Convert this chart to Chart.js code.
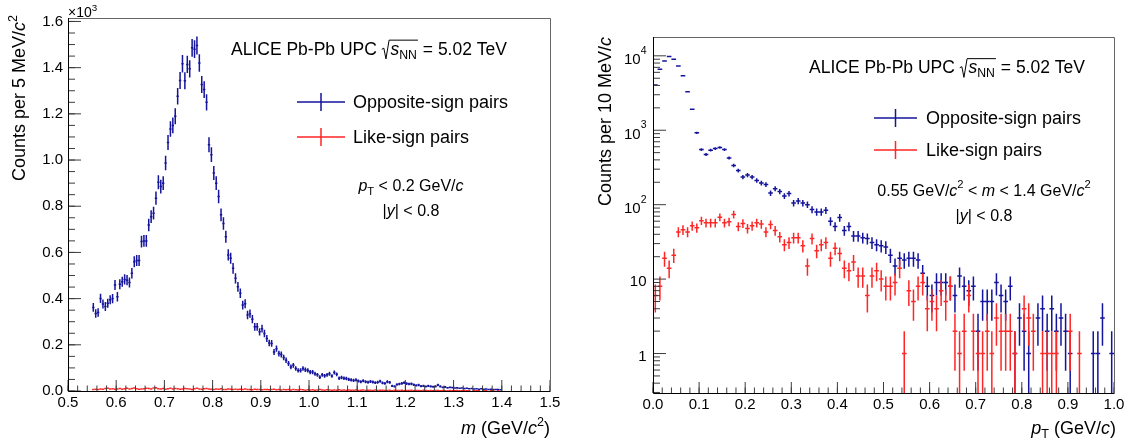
<!DOCTYPE html>
<html>
<head>
<meta charset="utf-8">
<script src="https://cdn.jsdelivr.net/npm/chart.js@4.4.1/dist/chart.umd.min.js"></script>
<style>
  body { margin: 0; background: #fff; }
  #wrap { position: relative; width: 1134px; height: 445px; }
  #massChart { position: absolute; left: 0; top: 0; }
  #ptChart { position: absolute; left: 567px; top: 0; }
</style>
</head>
<body>
<div id="wrap">
  <canvas id="massChart" width="567" height="445"></canvas>
  <canvas id="ptChart" width="567" height="445"></canvas>
</div>
<script>
// Invariant mass spectrum, 5 MeV bins from 0.55 to 1.40 GeV/c2 (pT < 0.2 GeV/c)
const massLow = 0.55;
const massBin = 0.005;
const massOpposite = [
  362, 336, 340, 401, 377, 366, 380, 395, 400, 459,
  408, 462, 473, 483, 480, 470, 510, 560, 565, 565,
  647, 650, 650, 719, 755, 770, 835, 904, 885, 900,
  987, 1076, 1134, 1150, 1190, 1276, 1344, 1417, 1343, 1414,
  1395, 1486, 1480, 1496, 1420, 1327, 1305, 1250, 1066, 1023,
  944, 900, 842, 763, 725, 668, 589, 575, 531, 488,
  451, 423, 372, 378, 329, 335, 311, 278, 278, 256,
  270, 249, 227, 208, 206, 169, 183, 162, 158, 145,
  133, 119, 104, 111, 97, 89, 89, 97, 92, 89,
  82, 82, 75, 70, 60, 70, 66, 70, 75, 65,
  80, 72, 55, 58, 55, 54, 50, 48, 46, 48,
  43, 40, 44, 40, 38, 41, 39, 36, 38, 42,
  35, 33, 40, 37, 22, 20, 28, 30, 33, 36,
  32, 30, 31, 27, 24, 26, 21, 22, 19, 22,
  20, 18, 20, 26, 20, 16, 17, 14, 16, 15,
  13, 14, 12, 13, 11, 12, 10, 11, 9, 10,
  8, 10, 8, 9, 7, 8, 7, 6, 7, 5
];
const massLike = [
  6, 8, 7, 9, 8, 11, 12, 9, 10, 8,
  9, 11, 8, 10, 12, 9, 11, 13, 10, 8,
  9, 10, 12, 11, 9, 13, 14, 10, 9, 11,
  8, 10, 12, 9, 11, 10, 8, 9, 11, 10,
  9, 7, 10, 12, 9, 8, 10, 11, 9, 8,
  7, 9, 8, 10, 7, 6, 9, 8, 7, 8,
  6, 8, 7, 9, 6, 7, 5, 8, 6, 7,
  5, 6, 7, 5, 6, 8, 5, 6, 4, 6,
  5, 7, 4, 6, 5, 4, 6, 5, 3, 5,
  4, 5, 3, 4, 6, 4, 3, 5, 4, 3,
  4, 3, 5, 3, 4, 2, 4, 3, 3, 4,
  2, 3, 4, 2, 3, 3, 2, 4, 2, 3,
  3, 2, 2, 3, 1, 3, 2, 2, 3, 1,
  2, 2, 3, 1, 2, 2, 1, 3, 2, 1,
  2, 1, 2, 2, 1, 2, 1, 1, 2, 1,
  1, 2, 1, 1, 2, 1, 1, 0, 1, 1,
  1, 0, 1, 1, 0, 1, 1, 0, 1, 0
];

// Transverse momentum spectrum, 10 MeV bins from 0 to 1 GeV/c
const ptLow = 0;
const ptBin = 0.01;
const ptOpposite = [
  4060, 6600, 8500, 9800, 9000, 7300, 5400, 3290, 1920, 922,
  550, 472, 540, 568, 587, 550, 425, 336, 287, 235,
  250, 235, 212, 195, 186, 143, 164, 150, 131, 141,
  105, 112, 105, 100, 86, 80, 80, 84, 60, 51,
  67, 45, 51, 38, 38, 36, 35, 31, 29, 28,
  27, 21, 15, 19, 18, 19, 19, 18, 12, 8,
  6, 9, 9, 9, 8, 6, 11, 8, 7, 8,
  2, 5, 5, 5, 9, 6, 5, 8, 1, 3,
  2, 1, 0, 3, 4, 2, 4, 2, 3, 2,
  1, 0, 0, 0, 0, 1, 1, 3, 0, 1
];
const ptLike = [
  6, 8, 19, 14, 21, 43, 46, 43, 52, 49,
  61, 57, 57, 57, 68, 57, 59, 74, 51, 56,
  48, 52, 57, 55, 43, 54, 45, 37, 29, 31,
  36, 36, 28, 15, 35, 24, 29, 31, 19, 26,
  22, 14, 13, 17, 11, 11, 6, 11, 13, 10,
  8, 8, 9, 14, 1, 7, 5, 8, 9, 4,
  5, 4, 7, 5, 8, 2, 1, 2, 6, 2,
  1, 1, 2, 1, 3, 2, 2, 2, 1, 0,
  4, 3, 2, 0, 1, 1, 1, 1, 0, 0,
  2, 0, 1, 0, 0, 0, 0, 0, 0, 0
];

// Tick labels
const massTicks = [0.5, 0.6, 0.7, 0.8, 0.9, 1.0, 1.1, 1.2, 1.3, 1.4, 1.5];
const massTickLabels = ['0.5', '0.6', '0.7', '0.8', '0.9', '1.0', '1.1', '1.2', '1.3', '1.4', '1.5'];
const countTicks = [0, 200, 400, 600, 800, 1000, 1200, 1400, 1600];
const countTickLabels = ['0.0', '0.2', '0.4', '0.6', '0.8', '1.0', '1.2', '1.4', '1.6'];
const ptTicks = [0, 0.1, 0.2, 0.3, 0.4, 0.5, 0.6, 0.7, 0.8, 0.9, 1.0];
const ptTickLabels = ['0.0', '0.1', '0.2', '0.3', '0.4', '0.5', '0.6', '0.7', '0.8', '0.9', '1.0'];
const logTicks = [1, 10, 100, 1000, 10000];
const logTickBase = ['1', '10', '10', '10', '10'];
const logTickExp = ['', '', '2', '3', '4'];

const FONT = '"Liberation Sans", Arial, Helvetica, sans-serif';
const BLUE = '#14149c';
const RED = '#ff2626';

function toPoints(low, bin, values) {
    return values.map((v, i) => ({ x: low + bin * (i + 0.5), y: v }));
}

// rich text helpers (italic, superscript, subscript)
function segFont(p, size) {
    const s = (p.sup || p.sub) ? size * 0.7 : size;
    return (p.i ? 'italic ' : '') + s + 'px ' + FONT;
}
function richWidth(ctx, parts, size) {
    let w = 0;
    parts.forEach(p => { ctx.font = segFont(p, size); w += ctx.measureText(p.t).width; });
    return w;
}
function drawRich(ctx, parts, x, y, size, align) {
    const w = richWidth(ctx, parts, size);
    let cx = align === 'center' ? x - w / 2 : align === 'right' ? x - w : x;
    ctx.textAlign = 'left';
    ctx.textBaseline = 'alphabetic';
    parts.forEach(p => {
        ctx.font = segFont(p, size);
        const dy = p.sup ? -size * 0.45 : p.sub ? size * 0.25 : 0;
        ctx.fillText(p.t, cx, y + dy);
        cx += ctx.measureText(p.t).width;
    });
}
function drawRotated(ctx, parts, cx, yEnd, size) {
    ctx.save();
    ctx.translate(cx, yEnd);
    ctx.rotate(-Math.PI / 2);
    drawRich(ctx, parts, 0, size * 0.36, size, 'right');
    ctx.restore();
}
function drawAlice(ctx, x, by, size) {
    ctx.fillStyle = '#000';
    ctx.textAlign = 'left';
    ctx.textBaseline = 'alphabetic';
    ctx.font = size + 'px ' + FONT;
    const head = 'ALICE Pb-Pb UPC ';
    ctx.fillText(head, x, by);
    const rx = x + ctx.measureText(head).width;
    const sx = rx + 0.5 * size;
    ctx.font = 'italic ' + size + 'px ' + FONT;
    ctx.fillText('s', sx, by);
    const ws = ctx.measureText('s').width;
    ctx.font = (size * 0.7) + 'px ' + FONT;
    ctx.fillText('NN', sx + ws, by + size * 0.25);
    const endX = sx + ws + ctx.measureText('NN').width + 1;
    ctx.strokeStyle = '#000';
    ctx.lineWidth = 1;
    ctx.beginPath();
    ctx.moveTo(rx, by - 0.3 * size);
    ctx.lineTo(rx + 0.12 * size, by - 0.36 * size);
    ctx.lineTo(rx + 0.24 * size, by + 0.25 * size);
    ctx.lineTo(rx + 0.42 * size, by - 0.82 * size);
    ctx.lineTo(endX, by - 0.82 * size);
    ctx.stroke();
    ctx.font = size + 'px ' + FONT;
    ctx.fillText(' = 5.02 TeV', endX, by);
}
function legendEntry(ctx, x1, x2, y, color, text, tx, size) {
    ctx.strokeStyle = color;
    ctx.lineWidth = 1.5;
    ctx.beginPath();
    ctx.moveTo(x1, y); ctx.lineTo(x2, y);
    const xm = (x1 + x2) / 2;
    ctx.moveTo(xm, y - 9); ctx.lineTo(xm, y + 9);
    ctx.stroke();
    ctx.fillStyle = '#000';
    ctx.font = size + 'px ' + FONT;
    ctx.textAlign = 'left';
    ctx.textBaseline = 'alphabetic';
    ctx.fillText(text, tx, y + size * 0.36);
}

// error bars: sqrt(N) vertically, bin width horizontally
const errorBars = {
    id: 'errorBars',
    afterDatasetsDraw(chart) {
        const { ctx, chartArea, scales: { x, y } } = chart;
        ctx.save();
        ctx.beginPath();
        ctx.rect(chartArea.left, chartArea.top, chartArea.width, chartArea.height);
        ctx.clip();
        chart.data.datasets.forEach(ds => {
            ctx.strokeStyle = ds.borderColor;
            ctx.lineWidth = 1.5;
            ds.data.forEach(p => {
                if (!p.y) return;
                const e = Math.sqrt(p.y);
                const px = x.getPixelForValue(p.x);
                const py = y.getPixelForValue(p.y);
                const lo = p.y - e;
                const pLo = lo > y.min ? y.getPixelForValue(lo) : chartArea.bottom;
                const pHi = y.getPixelForValue(p.y + e);
                const xl = x.getPixelForValue(p.x - ds.halfBin);
                const xr = x.getPixelForValue(p.x + ds.halfBin);
                ctx.beginPath();
                ctx.moveTo(px, pLo); ctx.lineTo(px, pHi);
                ctx.moveTo(xl, py); ctx.lineTo(xr, py);
                ctx.stroke();
            });
        });
        ctx.restore();
    }
};

// ROOT style frame with inward ticks
const rootFrame = {
    id: 'rootFrame',
    afterDraw(chart, args, opts) {
        const { ctx, chartArea: a, scales: { x, y } } = chart;
        ctx.save();
        ctx.lineWidth = 1;
        ctx.strokeStyle = '#3c3c3c';
        ctx.beginPath();
        opts.xMajor.forEach(v => { const px = x.getPixelForValue(v); ctx.moveTo(px, a.bottom); ctx.lineTo(px, a.bottom - 11); });
        opts.xMinor.forEach(v => { const px = x.getPixelForValue(v); ctx.moveTo(px, a.bottom); ctx.lineTo(px, a.bottom - 5.5); });
        opts.yMajor.forEach(v => { const py = y.getPixelForValue(v); ctx.moveTo(a.left, py); ctx.lineTo(a.left + 13, py); });
        opts.yMinor.forEach(v => { const py = y.getPixelForValue(v); ctx.moveTo(a.left, py); ctx.lineTo(a.left + 7, py); });
        ctx.stroke();
        ctx.strokeStyle = '#666';
        ctx.beginPath();
        ctx.moveTo(a.left, a.top + 0.5); ctx.lineTo(a.right + 0.5, a.top + 0.5); ctx.lineTo(a.right + 0.5, a.bottom);
        ctx.stroke();
        ctx.strokeStyle = '#000';
        ctx.beginPath();
        ctx.moveTo(a.left + 0.5, a.top); ctx.lineTo(a.left + 0.5, a.bottom + 0.5); ctx.lineTo(a.right + 0.5, a.bottom + 0.5);
        ctx.stroke();
        ctx.restore();
        if (opts.texts) opts.texts(ctx, chart);
    }
};

function linearMinors(from, to, step) {
    const out = [];
    const n = Math.round((to - from) / step);
    for (let k = 0; k <= n; k++) out.push(from + k * step);
    return out;
}
function logMinors(min, max) {
    const out = [];
    for (let d = -1; d <= 4; d++) {
        for (let k = 2; k <= 9; k++) {
            const v = k * Math.pow(10, d);
            if (v >= min && v <= max) out.push(v);
        }
    }
    return out;
}

function fixedTicks(vals) {
    return scale => { scale.ticks = vals.map(v => ({ value: v })); };
}

// Left panel: invariant mass
new Chart(document.getElementById('massChart'), {
    type: 'scatter',
    data: {
        datasets: [
            { label: 'Opposite-sign pairs', data: toPoints(massLow, massBin, massOpposite), borderColor: BLUE, halfBin: massBin / 2, pointRadius: 0, showLine: false },
            { label: 'Like-sign pairs', data: toPoints(massLow, massBin, massLike), borderColor: RED, halfBin: massBin / 2, pointRadius: 0, showLine: false }
        ]
    },
    options: {
        responsive: false,
        animation: false,
        events: [],
        layout: { padding: { left: 0, right: 17, top: 18, bottom: 0 } },
        scales: {
            x: {
                type: 'linear', min: 0.5, max: 1.5,
                afterBuildTicks: fixedTicks(massTicks),
                afterFit: s => { s.height = 54; },
                grid: { display: false, drawTicks: false },
                border: { display: false },
                ticks: { callback: (v, i) => massTickLabels[i], font: { family: FONT, size: 15 }, color: '#000', padding: 3, autoSkip: false, maxRotation: 0 }
            },
            y: {
                type: 'linear', min: 0, max: 1615,
                afterBuildTicks: fixedTicks(countTicks),
                afterFit: s => { s.width = 68; },
                grid: { display: false, drawTicks: false },
                border: { display: false },
                ticks: { callback: (v, i) => countTickLabels[i], font: { family: FONT, size: 15 }, color: '#000', padding: 5, autoSkip: false }
            }
        },
        plugins: {
            legend: { display: false },
            tooltip: { enabled: false },
            rootFrame: {
                xMajor: massTicks,
                xMinor: linearMinors(0.5, 1.5, 0.02),
                yMajor: countTicks,
                yMinor: linearMinors(0, 1600, 50),
                texts: (ctx, chart) => {
                    ctx.fillStyle = '#000';
                    drawRich(ctx, [{ t: '\u00d710' }, { t: '3', sup: 1 }], 68, 17, 14, 'left');
                    drawRotated(ctx, [{ t: 'Counts per 5 MeV/' }, { t: 'c', i: 1 }, { t: '2', sup: 1 }], 18.5, 15, 18);
                    drawRich(ctx, [{ t: 'm', i: 1 }, { t: ' (GeV/' }, { t: 'c', i: 1 }, { t: '2', sup: 1 }, { t: ')' }], 550, 434, 18, 'right');
                    drawAlice(ctx, 231, 54.5, 17.5);
                    legendEntry(ctx, 297, 345, 102, BLUE, 'Opposite-sign pairs', 353, 18);
                    legendEntry(ctx, 297, 345, 137, RED, 'Like-sign pairs', 353, 18);
                    ctx.fillStyle = '#000';
                    drawRich(ctx, [{ t: 'p', i: 1 }, { t: 'T', sub: 1 }, { t: ' < 0.2 GeV/' }, { t: 'c', i: 1 }], 411, 190.5, 16, 'center');
                    drawRich(ctx, [{ t: '|' }, { t: 'y', i: 1 }, { t: '| < 0.8' }], 411, 215.5, 16, 'center');
                }
            }
        }
    },
    plugins: [errorBars, rootFrame]
});

// Right panel: transverse momentum
const logMin = 0.295;
const logMax = 17900;
new Chart(document.getElementById('ptChart'), {
    type: 'scatter',
    data: {
        datasets: [
            { label: 'Opposite-sign pairs', data: toPoints(ptLow, ptBin, ptOpposite), borderColor: BLUE, halfBin: ptBin / 2, pointRadius: 0, showLine: false },
            { label: 'Like-sign pairs', data: toPoints(ptLow, ptBin, ptLike), borderColor: RED, halfBin: ptBin / 2, pointRadius: 0, showLine: false }
        ]
    },
    options: {
        responsive: false,
        animation: false,
        events: [],
        layout: { padding: { left: 0, right: 20, top: 37, bottom: 0 } },
        scales: {
            x: {
                type: 'linear', min: 0, max: 1,
                afterBuildTicks: fixedTicks(ptTicks),
                afterFit: s => { s.height = 52; },
                grid: { display: false, drawTicks: false },
                border: { display: false },
                ticks: { callback: (v, i) => ptTickLabels[i], font: { family: FONT, size: 15 }, color: '#000', padding: 3, autoSkip: false, maxRotation: 0 }
            },
            y: {
                type: 'logarithmic', min: logMin, max: logMax,
                afterBuildTicks: fixedTicks(logTicks),
                afterFit: s => { s.width = 86; },
                grid: { display: false, drawTicks: false },
                border: { display: false },
                ticks: { display: false }
            }
        },
        plugins: {
            legend: { display: false },
            tooltip: { enabled: false },
            rootFrame: {
                xMajor: ptTicks,
                xMinor: linearMinors(0, 1, 0.02),
                yMajor: logTicks,
                yMinor: logMinors(logMin, logMax),
                texts: (ctx, chart) => {
                    const y = chart.scales.y;
                    const left = chart.chartArea.left;
                    ctx.fillStyle = '#000';
                    logTicks.forEach((v, i) => {
                        const py = y.getPixelForValue(v);
                        let xr = left - 6.5;
                        if (logTickExp[i]) {
                            ctx.font = '10.5px ' + FONT;
                            ctx.textAlign = 'right';
                            ctx.textBaseline = 'alphabetic';
                            ctx.fillText(logTickExp[i], xr, py - 2);
                            xr -= ctx.measureText(logTickExp[i]).width;
                        }
                        ctx.font = '15px ' + FONT;
                        ctx.textAlign = 'right';
                        ctx.textBaseline = 'alphabetic';
                        ctx.fillText(logTickBase[i], xr, py + (logTickExp[i] ? 8.5 : 7));
                    });
                    drawRotated(ctx, [{ t: 'Counts per 10 MeV/' }, { t: 'c', i: 1 }], 605 - 567, 37, 18);
                    drawRich(ctx, [{ t: 'p', i: 1 }, { t: 'T', sub: 1 }, { t: ' (GeV/' }, { t: 'c', i: 1 }, { t: ')' }], 1116 - 567, 433.5, 18, 'right');
                    drawAlice(ctx, 809 - 567, 73, 17.5);
                    legendEntry(ctx, 874 - 567, 917 - 567, 118, BLUE, 'Opposite-sign pairs', 926 - 567, 18);
                    legendEntry(ctx, 874 - 567, 917 - 567, 150, RED, 'Like-sign pairs', 926 - 567, 18);
                    ctx.fillStyle = '#000';
                    drawRich(ctx, [{ t: '0.55 GeV/' }, { t: 'c', i: 1 }, { t: '2', sup: 1 }, { t: ' < ' }, { t: 'm', i: 1 }, { t: ' < 1.4 GeV/' }, { t: 'c', i: 1 }, { t: '2', sup: 1 }], 984 - 567, 195.5, 16, 'center');
                    drawRich(ctx, [{ t: '|' }, { t: 'y', i: 1 }, { t: '| < 0.8' }], 984 - 567, 220.5, 16, 'center');
                }
            }
        }
    },
    plugins: [errorBars, rootFrame]
});
</script>
</body>
</html>
